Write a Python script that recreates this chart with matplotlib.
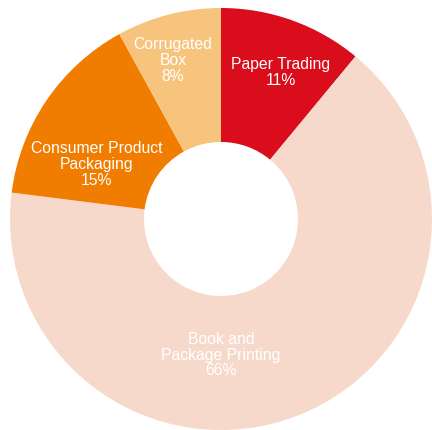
import matplotlib
matplotlib.use("Agg")
import matplotlib.pyplot as plt

plt.rcParams["font.family"] = ["Liberation Sans", "DejaVu Sans"]

# ── Data ──────────────────────────────────────────────────────────────────────
segments = ["Paper Trading", "Book and\nPackage Printing",
            "Consumer Product\nPackaging", "Corrugated\nBox"]
shares = [11, 66, 15, 8]
colors = ["#D90D1C", "#F7D9CB", "#F07D00", "#F7C47E"]

# label anchor positions in pie units (centre of text block)
label_xy = [(0.284, 0.697), (0.0, -0.640), (-0.588, 0.265), (-0.227, 0.754)]

# ── Figure ────────────────────────────────────────────────────────────────────
fig = plt.figure(figsize=(4.32, 4.31), dpi=100)
R_PX = 211
ax = fig.add_axes([(221 - R_PX) / 432, (431 - 220 - R_PX) / 431,
                   2 * R_PX / 432, 2 * R_PX / 431])

ax.pie(shares, colors=colors, startangle=90, counterclock=False, radius=1.0,
       wedgeprops=dict(width=1 - 77 / R_PX, linewidth=0))

for name, val, (x, y) in zip(segments, shares, label_xy):
    ax.text(x, y, f"{name}\n{val}%", ha="center", va="center", color="white",
            fontsize=11.3, linespacing=1.08)

ax.set_xlim(-1, 1)
ax.set_ylim(-1, 1)
ax.set_aspect("equal")
ax.axis("off")

fig.savefig("out.png", dpi=100)
